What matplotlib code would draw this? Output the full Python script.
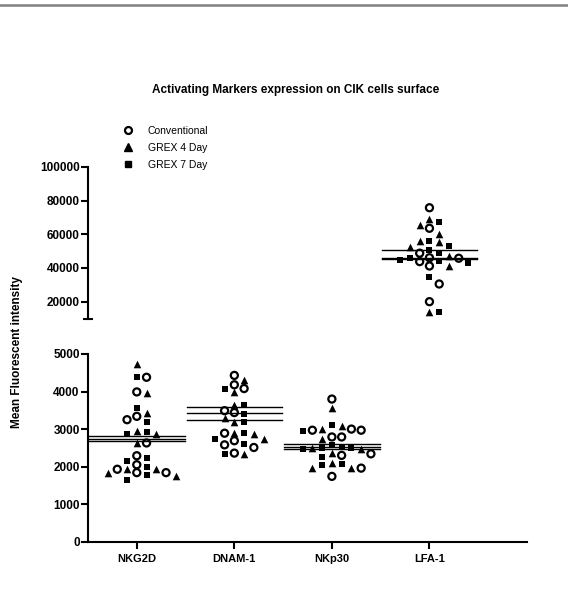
import matplotlib.pyplot as plt
import numpy as np
from matplotlib.lines import Line2D

plt.rcParams['font.family'] = ['Liberation Sans', 'DejaVu Sans']

# categories on the x axis
categories = ['NKG2D', 'DNAM-1', 'NKp30', 'LFA-1']
group_names = ['Conventional', 'GREX 4 Day', 'GREX 7 Day']

# mean fluorescent intensity per marker, one list per category
conventional = [
    [4380, 3990, 3340, 3250, 2630, 2290, 2050, 1930, 1840, 1840],
    [4430, 4180, 4080, 3490, 3440, 2890, 2690, 2580, 2510, 2360],
    [3800, 3000, 2970, 2970, 2790, 2790, 2340, 2300, 1960, 1740],
    [75800, 63600, 48800, 46100, 45800, 43800, 41200, 30500, 20000],
]
grex4 = [
    [4740, 3960, 3440, 2950, 2870, 2640, 1930, 1930, 1830, 1740],
    [4320, 3980, 3650, 3290, 3190, 2890, 2860, 2740, 2330],
    [3560, 3090, 3000, 2730, 2490, 2470, 2360, 2090, 1960, 1960],
    [68900, 65500, 60200, 56000, 55500, 52700, 47000, 41200, 14100],
]
grex7 = [
    [4400, 3560, 3180, 2920, 2880, 2230, 2160, 1990, 1780, 1650],
    [4080, 3630, 3390, 3190, 2890, 2740, 2590, 2330],
    [3110, 2940, 2580, 2490, 2470, 2520, 2490, 2250, 2070, 2050],
    [67500, 56000, 53100, 50700, 49100, 46100, 44800, 44200, 42800, 34800, 14100],
]

# horizontal mean lines
conventional_mean = [2740, 3250, 2600, 46000]
grex4_mean = [2810, 3425, 2535, 50700]
grex7_mean = [2680, 3600, 2470, 45300]

W, H = 568, 593
fig = plt.figure(figsize=(W / 100, H / 100), dpi=100)

lo_bot, lo_top = 541.7, 354
hi_bot, hi_top = 318.5, 167
ax_lo = fig.add_axes([88 / W, (H - lo_bot) / H, (527 - 88) / W, (lo_bot - lo_top) / H])
ax_hi = fig.add_axes([88 / W, (H - hi_bot) / H, (527 - 88) / W, (hi_bot - hi_top) / H])

lo_lim = (0, 5000)
hi_lim = (10000, 100000)
lo_scale = (lo_bot - lo_top) / (lo_lim[1] - lo_lim[0])
hi_scale = (hi_bot - hi_top) / (hi_lim[1] - hi_lim[0])

styles = [
    dict(marker='o', facecolors='none', edgecolors='black', linewidths=1.6, s=26),
    dict(marker='^', color='black', linewidths=0, s=30),
    dict(marker='s', color='black', linewidths=0, s=24),
]


def swarm_offsets(vals, step=0.1, min_dy=7.5):
    # simple beeswarm: columns of width `step`, points collide when in same
    # column and closer than min_dy pixels vertically
    px = [v * (hi_scale if v > 5000 else lo_scale) for v in vals]
    order = np.argsort(vals)[::-1]
    cols = {}
    offs = np.zeros(len(vals))
    cand = [0]
    for k in range(1, 8):
        cand += [k, -k]
    for idx in order:
        for c in cand:
            if all(abs(px[idx] - p) >= min_dy for p in cols.get(c, [])):
                cols.setdefault(c, []).append(px[idx])
                offs[idx] = c * step
                break
    return offs


groups = [conventional, grex4, grex7]
means = [conventional_mean, grex4_mean, grex7_mean]

for i, cat in enumerate(categories):
    vals = []
    gid = []
    for g, data in enumerate(groups):
        vals += data[i]
        gid += [g] * len(data[i])
    vals = np.array(vals, dtype=float)
    gid = np.array(gid)
    offs = swarm_offsets(vals)
    for g in range(3):
        sel = gid == g
        v = vals[sel]
        x = i + offs[sel]
        lo = v <= 5000
        if lo.any():
            ax_lo.scatter(x[lo], v[lo], zorder=2, clip_on=False, **styles[g])
        if (~lo).any():
            ax_hi.scatter(x[~lo], v[~lo], zorder=2, clip_on=False, **styles[g])
    # mean lines
    for g in range(3):
        m = means[g][i]
        ax = ax_lo if m <= 5000 else ax_hi
        ax.plot([i - 0.49, i + 0.49], [m, m], color='black', lw=1.0, zorder=3)

for ax in (ax_lo, ax_hi):
    ax.set_xlim(-0.5, 4.0)
    for s in ('top', 'right'):
        ax.spines[s].set_visible(False)
    ax.spines['left'].set_linewidth(1.5)
    ax.spines['bottom'].set_linewidth(1.5)
    ax.tick_params(axis='y', length=5, width=1.5, labelsize=8.5, pad=1)
    ax.tick_params(axis='x', length=5, width=1.5, labelsize=8, pad=4)

ax_lo.set_ylim(*lo_lim)
ax_lo.set_yticks(np.arange(0, 5001, 1000))
ax_lo.set_xticks(range(len(categories)))
ax_lo.set_xticklabels(categories)

ax_hi.set_ylim(*hi_lim)
ax_hi.set_yticks(np.arange(20000, 100001, 20000))
ax_hi.spines['bottom'].set_visible(False)
ax_hi.set_xticks([])
# small cap at the bottom of the broken axis
ax_hi.plot([0], [0], transform=ax_hi.transAxes, marker='_', ms=7, mew=1.5,
           color='black', clip_on=False)

for ax in (ax_lo, ax_hi):
    for lab in ax.get_yticklabels() + ax.get_xticklabels():
        lab.set_fontweight('bold')

fig.text(296 / W, 1 - 90 / H, 'Activating Markers expression on CIK cells surface',
         ha='center', va='center', fontsize=8.5, fontweight='bold')
fig.text(17 / W, 1 - 352 / H, 'Mean Fluorescent intensity', rotation=90,
         ha='center', va='center', fontsize=8.5, fontweight='bold')

handles = [
    Line2D([0], [0], marker='o', ls='none', mfc='none', mec='black', mew=1.6, ms=5, label=group_names[0]),
    Line2D([0], [0], marker='^', ls='none', color='black', ms=5.5, label=group_names[1]),
    Line2D([0], [0], marker='s', ls='none', color='black', ms=5, label=group_names[2]),
]
fig.legend(handles=handles, loc='upper left', bbox_to_anchor=(123 / W, 1 - 126 / H),
           frameon=False, fontsize=7.5, handlelength=1.0, handletextpad=1.4,
           labelspacing=0.65, borderpad=0, borderaxespad=0)

# grey page rule at the top
fig.add_artist(Line2D([0, 1], [1 - 4.5 / H] * 2, transform=fig.transFigure,
                      color='#808080', lw=1.8))

fig.savefig('out.png', dpi=100)
